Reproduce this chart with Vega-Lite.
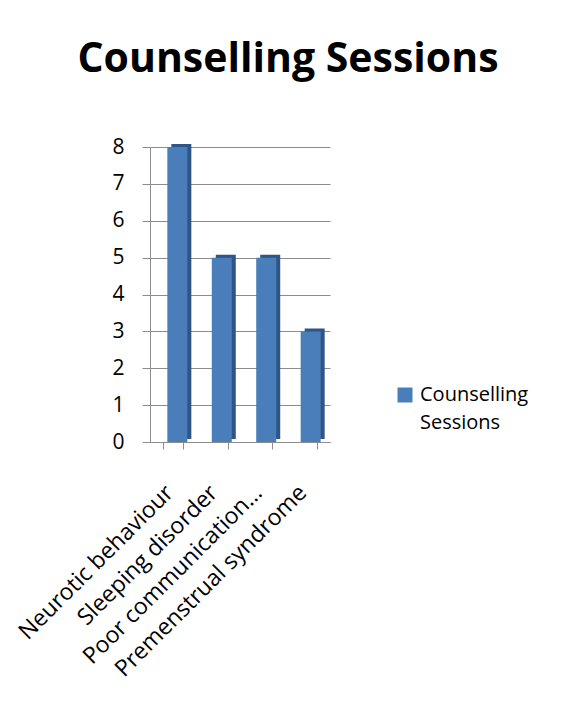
{
  "$schema": "https://vega.github.io/schema/vega-lite/v6.json",
  "width": 180,
  "height": 295,
  "autosize": "none",
  "padding": {"left": 150, "top": 147, "right": 232, "bottom": 284},
  "background": "white",
  "title": {
    "text": "Counselling Sessions",
    "font": "Open Sans",
    "fontSize": 41,
    "fontWeight": "bold",
    "color": "black",
    "anchor": "middle",
    "dx": 48,
    "offset": 55
  },
  "data": {
    "values": [
      {"category": "Neurotic behaviour", "value": 8, "series": "Counselling Sessions"},
      {"category": "Sleeping disorder", "value": 5, "series": "Counselling Sessions"},
      {"category": "Poor communication…", "value": 5, "series": "Counselling Sessions"},
      {"category": "Premenstrual syndrome", "value": 3, "series": "Counselling Sessions"}
    ]
  },
  "encoding": {
    "x": {
      "field": "category",
      "type": "nominal",
      "sort": null,
      "scale": {"paddingInner": 0.55, "paddingOuter": 0.3},
      "axis": {
        "title": null,
        "labelAngle": -45,
        "labelFont": "Open Sans",
        "labelFontSize": 23,
        "labelColor": "black",
        "labelPadding": 32,
        "labelOffset": -12,
        "labelLimit": 300,
        "tickBand": "extent",
        "tickSize": 7,
        "tickColor": "#8c8c8c",
        "domainColor": "#8c8c8c",
        "grid": false
      }
    },
    "y": {
      "field": "value",
      "type": "quantitative",
      "scale": {"domain": [0, 8], "nice": false},
      "axis": {
        "title": null,
        "values": [0, 1, 2, 3, 4, 5, 6, 7, 8],
        "labelFont": "Open Sans",
        "labelFontSize": 21,
        "labelColor": "black",
        "labelPadding": 18,
        "tickSize": 8,
        "tickColor": "#8c8c8c",
        "domainColor": "#8c8c8c",
        "gridColor": "#8c8c8c",
        "gridWidth": 1.2
      }
    }
  },
  "layer": [
    {
      "mark": {"type": "bar", "color": "#2f5587", "xOffset": 8, "yOffset": -3},
      "encoding": {}
    },
    {
      "mark": {"type": "bar", "xOffset": 4},
      "encoding": {
        "color": {
          "field": "series",
          "type": "nominal",
          "scale": {"range": ["#4a7ebb"]},
          "legend": {
            "title": null,
            "orient": "none",
            "legendX": 245,
            "legendY": 238,
            "symbolType": "square",
            "symbolSize": 225,
            "symbolStrokeWidth": 0,
            "labelFont": "Open Sans",
            "labelFontSize": 20,
            "labelColor": "black",
            "labelExpr": "['Counselling', 'Sessions']",
            "labelOffset": 5,
            "labelLimit": 200
          }
        }
      }
    }
  ],
  "config": {
    "view": {"stroke": null},
    "style": {"guide-label": {"lineHeight": 28}}
  }
}
